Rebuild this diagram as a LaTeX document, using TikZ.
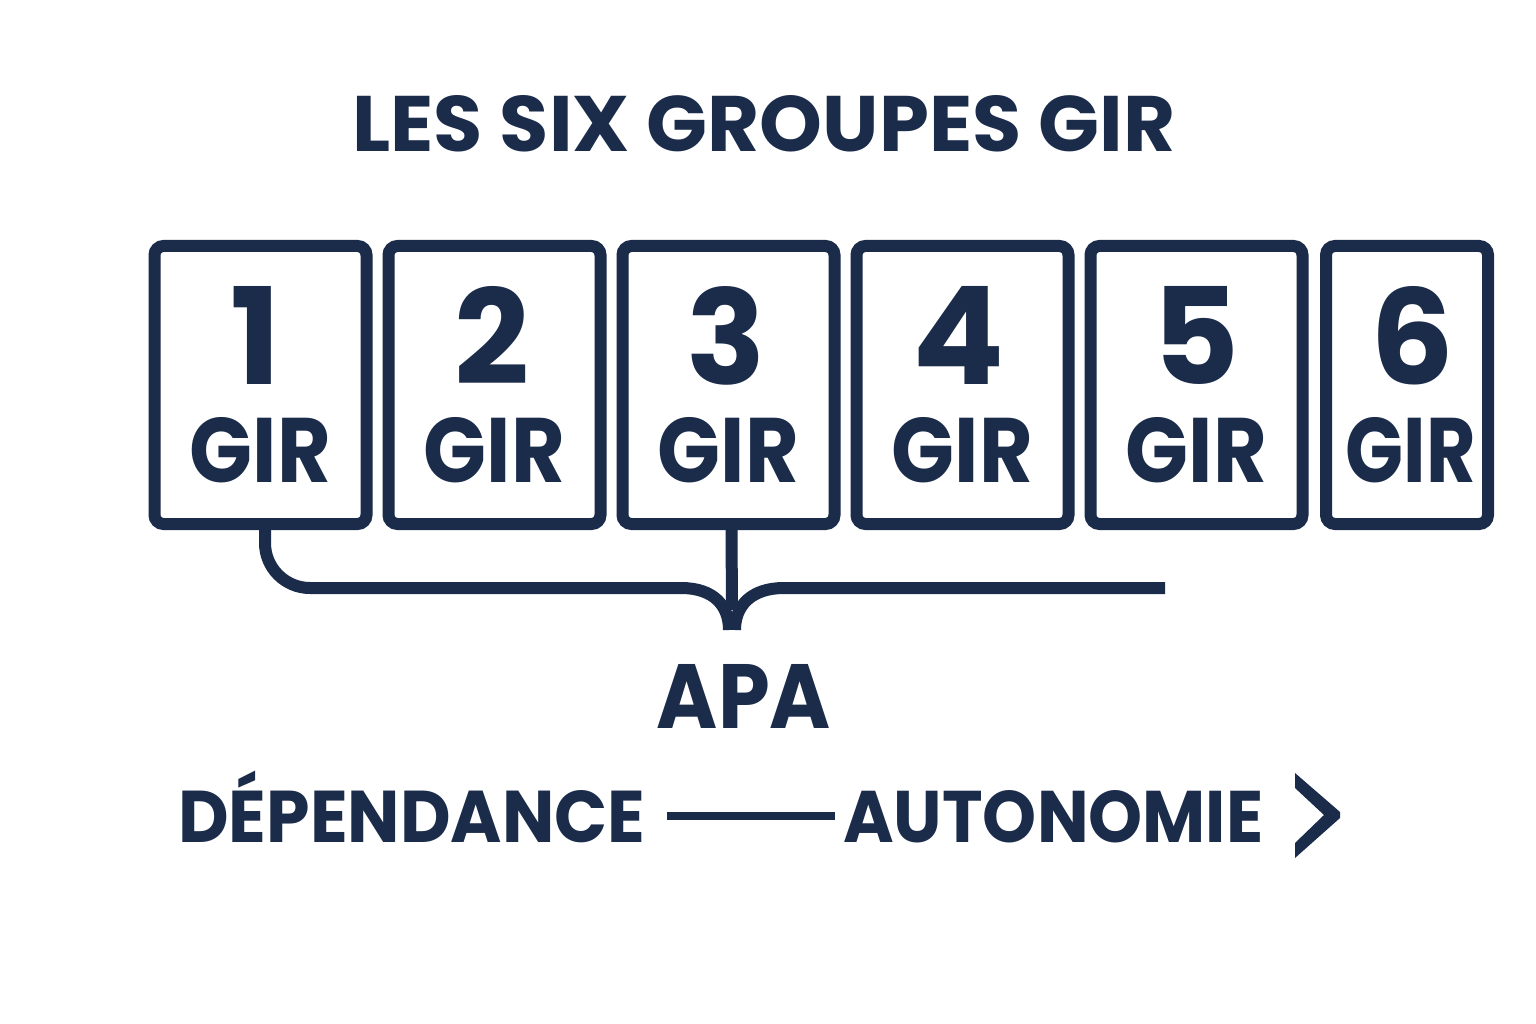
\documentclass[tikz,border=0pt]{standalone}
\usepackage{fontspec}
\setmainfont{Poppins}
\usetikzlibrary{calc}
\definecolor{navy}{HTML}{1B2B4A}
\newcommand\fitbox[3]{\resizebox{#1}{#2}{#3}}
\begin{document}
\begin{tikzpicture}[x=1pt,y=-1pt,
  girbox/.style={draw=navy, line width=12pt, rounded corners=9pt, minimum height=278pt, inner sep=0pt},
  txt/.style={inner sep=0pt, text=navy, font=\bfseries},
  link/.style={draw=navy, line width=12pt}]
\fill[white] (0,0) rectangle (1536,1024);
\useasboundingbox (0,0) rectangle (1536,1024);
% title
\node[txt, anchor=base west] (title) at (352,152) {\fitbox{823pt}{56pt}{LES SIX GROUPES GIR}};
% boxes
\node[girbox, minimum width=212pt] (b1) at (260.5,385) {};
\node[girbox, minimum width=212pt] (b2) at (494.5,385) {};
\node[girbox, minimum width=212pt] (b3) at (728.5,385) {};
\node[girbox, minimum width=212pt] (b4) at (962.5,385) {};
\node[girbox, minimum width=212pt] (b5) at (1196.5,385) {};
\node[girbox, minimum width=162pt] (b6) at (1407,385) {};
% digits
\node[txt, anchor=base] (n1) at ($(b1.north)+(-5,144)$) {\fitbox{!}{98pt}{1}};
\node[txt, anchor=base] (n2) at ($(b2.north)+(-2,144)$) {\fitbox{!}{98pt}{2}};
\node[txt, anchor=base] (n3) at ($(b3.north)+(-2,144)$) {\fitbox{!}{98pt}{3}};
\node[txt, anchor=base] (n4) at ($(b4.north)+(-4,144)$) {\fitbox{!}{98pt}{4}};
\node[txt, anchor=base] (n5) at ($(b5.north)+(0,144)$) {\fitbox{!}{98pt}{5}};
\node[txt, anchor=base] (n6) at ($(b6.north)+(5,144)$) {\fitbox{!}{98pt}{6}};
% GIR labels
\node[txt, anchor=base] (g1) at ($(b1.north)+(0,242)$) {\fitbox{141pt}{65pt}{GIR}};
\node[txt, anchor=base] (g2) at ($(b2.north)+(0,242)$) {\fitbox{141pt}{65pt}{GIR}};
\node[txt, anchor=base] (g3) at ($(b3.north)+(0,242)$) {\fitbox{141pt}{65pt}{GIR}};
\node[txt, anchor=base] (g4) at ($(b4.north)+(0,242)$) {\fitbox{141pt}{65pt}{GIR}};
\node[txt, anchor=base] (g5) at ($(b5.north)+(0,242)$) {\fitbox{141pt}{65pt}{GIR}};
\node[txt, anchor=base] (g6) at ($(b6.north)+(4,242)$) {\fitbox{130pt}{65pt}{GIR}};
% connector
\coordinate (m) at (732,630);
\coordinate (lend) at (681,588);
\coordinate (rend) at (1165,588);
\draw[link, rounded corners=45pt] ([xshift=4.5pt]b1.south) |- (lend);
\draw[link] (lend) .. controls +(33,0) and +(0,-24) .. ([xshift=-3pt]m);
\draw[link] ([xshift=3pt]m) .. controls +(0,-24) and +(-33,0) .. (784,588) -- (rend);
\draw[link] ([xshift=3pt]b3.south) -- ($(m)+(0,-20)$);
% APA
\node[txt, anchor=base] (apa) at (744,728) {\fitbox{174pt}{64pt}{APA}};
% bottom scale
\node[txt, anchor=base west] (dep) at (178,842) {\fitbox{467pt}{52pt}{D\smash{É}PENDANCE}};
\node[txt, anchor=base west] (auto) at (843,842) {\fitbox{420pt}{52pt}{AUTONOMIE}};
\draw[navy, line width=8pt, shorten <=22pt, shorten >=8pt] ([yshift=26pt]dep.base east) -- ([yshift=26pt]auto.base west);
\fill[navy] (1295,773) -- (1340,812) -- (1340,818) -- (1295,858) -- (1295,843) -- (1324,815) -- (1295,788) -- cycle;
\end{tikzpicture}
\end{document}
